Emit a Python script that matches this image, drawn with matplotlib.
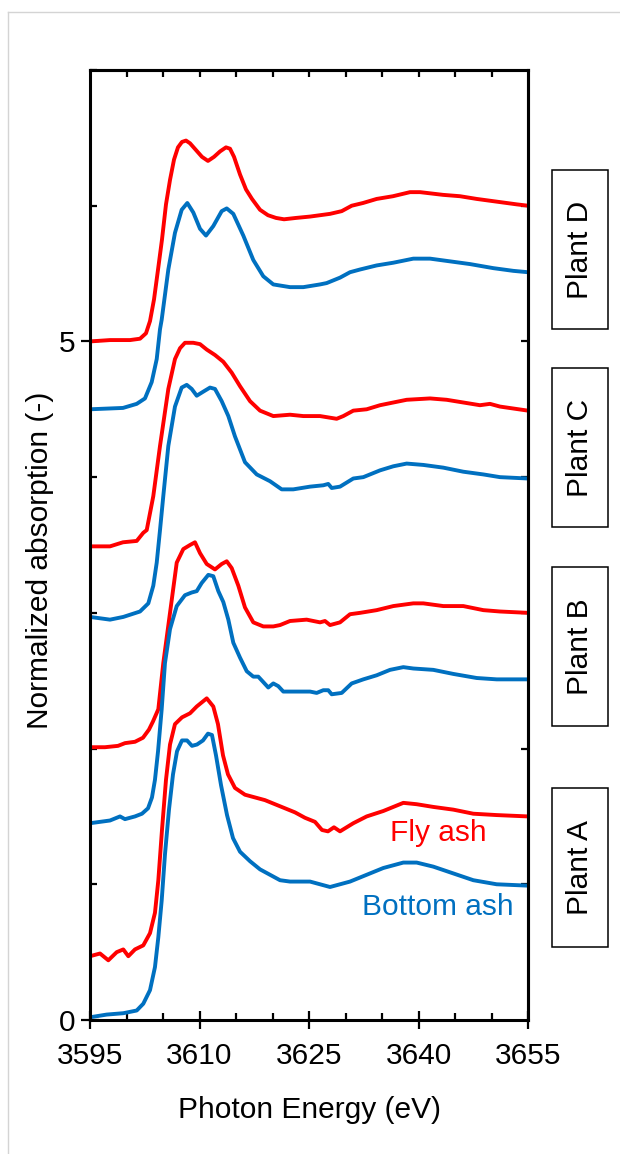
import matplotlib
matplotlib.use("Agg")
import matplotlib.pyplot as plt
from matplotlib.patches import Rectangle
from matplotlib.lines import Line2D
from matplotlib.ticker import MultipleLocator
import numpy as np

plt.rcParams['font.family'] = ['Liberation Sans', 'DejaVu Sans']
plt.rcParams['font.size'] = 21.5

# ---- data: photon energy (eV) / normalized absorption, offset per plant ----
e_fly_d = [3595.0, 3597.74, 3600.48, 3601.85, 3602.67, 3603.22, 3603.77, 3604.32, 3604.86, 3605.41,
           3605.96, 3606.51, 3607.05, 3607.6, 3608.15, 3608.7, 3609.52, 3610.34, 3611.16, 3611.99,
           3612.81, 3613.63, 3614.18, 3614.73, 3615.55, 3616.37, 3617.19, 3618.29, 3619.38, 3620.48,
           3621.58, 3623.22, 3625.14, 3627.88, 3629.48, 3630.85, 3632.4, 3634.27, 3636.51, 3638.84,
           3640.21, 3643.36, 3645.68, 3647.97, 3650.71, 3653.45, 3655.0]
fly_d = [5.0, 5.01, 5.01, 5.02, 5.06, 5.15, 5.31, 5.53, 5.75, 6.01,
         6.19, 6.34, 6.43, 6.47, 6.48, 6.46, 6.41, 6.36, 6.33, 6.36,
         6.4, 6.43, 6.42, 6.36, 6.23, 6.12, 6.05, 5.97, 5.93, 5.91,
         5.9, 5.91, 5.92, 5.94, 5.96, 6.0, 6.02, 6.05, 6.07, 6.1,
         6.1, 6.08, 6.07, 6.05, 6.03, 6.01, 6.0]

e_bottom_d = [3595.0, 3599.52, 3601.4, 3602.53, 3603.45, 3604.14, 3604.59, 3604.82, 3605.73, 3606.64,
              3607.56, 3608.33, 3609.15, 3610.07, 3610.89, 3611.89, 3613.04, 3613.73, 3614.63, 3616.0,
              3617.37, 3618.74, 3620.11, 3622.4, 3624.22, 3626.51, 3627.42, 3629.25, 3630.62, 3631.99,
              3634.27, 3636.55, 3639.29, 3641.58, 3644.32, 3647.05, 3650.25, 3652.99, 3655.0]
bottom_d = [4.5, 4.51, 4.54, 4.58, 4.7, 4.87, 5.09, 5.16, 5.53, 5.8,
            5.97, 6.02, 5.95, 5.83, 5.78, 5.85, 5.96, 5.98, 5.94, 5.78,
            5.6, 5.48, 5.42, 5.4, 5.4, 5.42, 5.43, 5.47, 5.51, 5.53,
            5.56, 5.58, 5.61, 5.61, 5.59, 5.57, 5.54, 5.52, 5.51]

e_fly_c = [3595.0, 3597.74, 3599.52, 3601.4, 3602.3, 3602.77, 3603.67, 3604.59, 3605.73, 3606.64,
           3607.33, 3608.01, 3609.15, 3610.07, 3610.99, 3612.12, 3613.26, 3614.41, 3615.55, 3616.92,
           3618.29, 3620.11, 3622.4, 3624.22, 3626.51, 3628.79, 3629.7, 3631.07, 3632.9, 3634.73,
           3636.55, 3638.38, 3641.58, 3643.86, 3646.14, 3648.42, 3649.79, 3651.16, 3655.0]
fly_c = [3.49, 3.49, 3.52, 3.53, 3.59, 3.61, 3.86, 4.23, 4.65, 4.87,
         4.95, 4.99, 4.99, 4.98, 4.94, 4.9, 4.85, 4.77, 4.67, 4.56,
         4.49, 4.45, 4.46, 4.45, 4.45, 4.43, 4.45, 4.49, 4.5, 4.53,
         4.55, 4.57, 4.58, 4.57, 4.55, 4.53, 4.54, 4.52, 4.49]

e_bottom_c = [3595.0, 3597.74, 3599.56, 3601.85, 3602.99, 3603.67, 3604.14, 3604.59, 3605.04, 3605.73,
              3606.64, 3607.56, 3608.25, 3608.93, 3609.62, 3610.52, 3611.44, 3612.12, 3613.04, 3613.95,
              3614.86, 3616.23, 3617.84, 3619.66, 3621.26, 3622.85, 3625.14, 3626.96, 3627.64, 3628.11,
              3629.25, 3631.07, 3632.44, 3634.73, 3636.55, 3638.38, 3640.66, 3643.4, 3646.14, 3648.88,
              3651.16, 3655.0]
bottom_c = [2.97, 2.95, 2.97, 3.01, 3.07, 3.2, 3.37, 3.61, 3.86, 4.23,
            4.52, 4.66, 4.68, 4.65, 4.6, 4.63, 4.66, 4.65, 4.56, 4.45,
            4.3, 4.11, 4.02, 3.97, 3.91, 3.91, 3.93, 3.94, 3.95, 3.92,
            3.93, 3.99, 4.0, 4.05, 4.08, 4.1, 4.09, 4.07, 4.04, 4.02,
            4.0, 3.99]

e_fly_b = [3595.0, 3597.05, 3598.84, 3599.79, 3601.16, 3602.26, 3603.08, 3603.63, 3604.36, 3605.04,
           3605.96, 3606.88, 3607.78, 3608.7, 3609.38, 3610.07, 3610.99, 3612.12, 3613.04, 3613.73,
           3614.41, 3615.32, 3616.23, 3617.37, 3618.74, 3620.11, 3621.03, 3622.4, 3624.68, 3626.51,
           3627.19, 3627.88, 3629.25, 3630.62, 3631.99, 3634.27, 3636.55, 3639.29, 3640.66, 3643.4,
           3646.14, 3648.88, 3651.16, 3655.0]
fly_b = [2.01, 2.01, 2.02, 2.04, 2.05, 2.08, 2.14, 2.2, 2.29, 2.63,
         3.0, 3.37, 3.47, 3.5, 3.52, 3.44, 3.36, 3.32, 3.36, 3.38,
         3.33, 3.2, 3.04, 2.93, 2.9, 2.9, 2.91, 2.94, 2.95, 2.93,
         2.94, 2.91, 2.93, 2.99, 3.0, 3.02, 3.05, 3.07, 3.07, 3.05,
         3.05, 3.02, 3.01, 3.0]

e_bottom_b = [3595.0, 3597.74, 3599.11, 3599.79, 3601.16, 3602.12, 3602.95, 3603.49, 3603.9, 3604.32,
              3604.82, 3605.27, 3605.96, 3606.88, 3608.01, 3608.93, 3609.62, 3610.3, 3611.21, 3611.89,
              3612.58, 3613.26, 3613.95, 3614.63, 3615.55, 3616.47, 3617.37, 3618.05, 3618.74, 3619.42,
              3620.11, 3620.79, 3621.48, 3623.32, 3625.14, 3626.05, 3626.96, 3627.64, 3628.11, 3629.48,
              3630.85, 3632.44, 3634.27, 3636.1, 3637.92, 3639.29, 3642.03, 3644.77, 3647.97, 3650.71,
              3655.0]
bottom_b = [1.45, 1.47, 1.5, 1.48, 1.5, 1.52, 1.56, 1.64, 1.77, 1.98,
            2.29, 2.63, 2.88, 3.05, 3.13, 3.15, 3.16, 3.22, 3.28, 3.27,
            3.16, 3.08, 2.95, 2.78, 2.67, 2.57, 2.53, 2.53, 2.49, 2.45,
            2.48, 2.46, 2.42, 2.42, 2.42, 2.41, 2.43, 2.43, 2.4, 2.41,
            2.48, 2.51, 2.54, 2.58, 2.6, 2.59, 2.58, 2.55, 2.52, 2.51,
            2.51]

e_fly_a = [3595.0, 3596.37, 3597.51, 3598.66, 3599.56, 3600.25, 3601.16, 3602.3, 3603.22, 3603.9,
           3604.36, 3604.86, 3605.41, 3605.96, 3606.64, 3607.6, 3608.7, 3609.62, 3610.99, 3611.89,
           3612.53, 3613.22, 3613.9, 3614.86, 3616.23, 3617.6, 3618.97, 3620.34, 3621.71, 3623.08,
           3624.45, 3625.82, 3626.78, 3627.6, 3628.42, 3629.25, 3631.07, 3632.9, 3635.18, 3636.55,
           3637.92, 3639.75, 3642.03, 3644.77, 3647.51, 3650.71, 3655.0]
fly_a = [0.47, 0.49, 0.44, 0.5, 0.52, 0.47, 0.52, 0.55, 0.64, 0.79,
         1.03, 1.4, 1.77, 2.03, 2.18, 2.23, 2.26, 2.31, 2.37, 2.31,
         2.18, 1.95, 1.81, 1.71, 1.66, 1.64, 1.62, 1.59, 1.56, 1.53,
         1.49, 1.46, 1.4, 1.39, 1.42, 1.39, 1.45, 1.5, 1.54, 1.57,
         1.6, 1.59, 1.57, 1.55, 1.52, 1.51, 1.5]

e_bottom_a = [3595.0, 3597.29, 3599.56, 3601.4, 3602.3, 3603.22, 3603.9, 3604.36, 3604.82, 3605.27,
              3605.82, 3606.37, 3606.92, 3607.6, 3608.29, 3608.97, 3609.66, 3610.48, 3611.16, 3611.71,
              3612.26, 3612.95, 3613.77, 3614.59, 3615.55, 3616.92, 3618.29, 3619.66, 3621.03, 3622.4,
              3623.77, 3625.14, 3626.51, 3627.88, 3629.25, 3630.62, 3632.9, 3635.18, 3637.92, 3639.75,
              3642.03, 3644.77, 3647.51, 3650.71, 3655.0]
bottom_a = [0.02, 0.04, 0.05, 0.07, 0.12, 0.22, 0.39, 0.61, 0.88, 1.22,
            1.55, 1.81, 1.98, 2.06, 2.06, 2.02, 2.03, 2.06, 2.11, 2.1,
            1.95, 1.73, 1.51, 1.34, 1.24, 1.17, 1.11, 1.07, 1.03, 1.02,
            1.02, 1.02, 1.0, 0.98, 1.0, 1.02, 1.07, 1.12, 1.16, 1.16,
            1.13, 1.08, 1.03, 1.0, 0.99]

plants = ['Plant D', 'Plant C', 'Plant B', 'Plant A']

red = '#ff0000'
blue = '#0070c0'

fig = plt.figure(figsize=(6.2, 11.54), dpi=100)
ax = fig.add_axes([90 / 620, 1 - 1020 / 1154, 438 / 620, 950 / 1154])

for e, v in [(e_fly_d, fly_d), (e_fly_c, fly_c), (e_fly_b, fly_b), (e_fly_a, fly_a)]:
    ax.plot(e, v, color=red, lw=2.8, solid_joinstyle='round')
for e, v in [(e_bottom_d, bottom_d), (e_bottom_c, bottom_c), (e_bottom_b, bottom_b), (e_bottom_a, bottom_a)]:
    ax.plot(e, v, color=blue, lw=2.8, solid_joinstyle='round')

ax.set_xlim(3595, 3655)
ax.set_ylim(0, 7)
ax.set_xticks([3595, 3610, 3625, 3640, 3655])
ax.xaxis.set_minor_locator(MultipleLocator(5))
ax.set_yticks([0, 5])
ax.yaxis.set_minor_locator(MultipleLocator(1))
ax.tick_params(which='major', direction='inout', length=13, width=1.6, top=False, right=False)
ax.tick_params(which='minor', direction='in', length=5, width=1.6, top=False, right=False)
ax.tick_params(axis='x', which='major', pad=9)
ax.tick_params(axis='y', which='major', pad=4)
for s in ax.spines.values():
    s.set_linewidth(2.2)

# inward ticks on the top and right frame
top = ax.secondary_xaxis('top')
top.set_xticks(np.arange(3600, 3655, 5))
top.tick_params(direction='in', length=5, width=1.6, labeltop=False)
top.spines['top'].set_linewidth(2.2)
right = ax.secondary_yaxis('right')
right.set_yticks(np.arange(1, 7, 1))
right.tick_params(direction='in', length=5, width=1.6, labelright=False)
right.spines['right'].set_linewidth(2.2)

ax.set_xlabel('Photon Energy (eV)')
ax.xaxis.set_label_coords(0.5, -0.095)
ax.xaxis.label.set_va('center')
ax.set_ylabel('Normalized absorption (-)')
ax.yaxis.set_label_coords(-0.114, 0.484)
ax.yaxis.label.set_va('center')

ax.text(3642.7, 1.38, 'Fly ash', color=red, ha='center', va='center')
ax.text(3642.7, 0.83, 'Bottom ash', color=blue, ha='center', va='center')

# plant labels in boxes to the right of the axes
box_tops = [170, 368, 567, 788]
for name, t in zip(plants, box_tops):
    fig.add_artist(Rectangle((552 / 620, 1 - (t + 159) / 1154), 56 / 620, 159 / 1154,
                             transform=fig.transFigure, fill=False, lw=1.1, ec='black'))
    fig.text(580 / 620, 1 - (t + 79.5) / 1154, name, rotation=90, ha='center', va='center')

# light frame around the figure
fig.add_artist(Line2D([8 / 620, 8 / 620], [0, 1 - 12 / 1154], transform=fig.transFigure,
                      color='#d4d4d4', lw=1))
fig.add_artist(Line2D([8 / 620, 1], [1 - 12 / 1154, 1 - 12 / 1154], transform=fig.transFigure,
                      color='#d4d4d4', lw=1))

fig.savefig('out.png', dpi=100)
